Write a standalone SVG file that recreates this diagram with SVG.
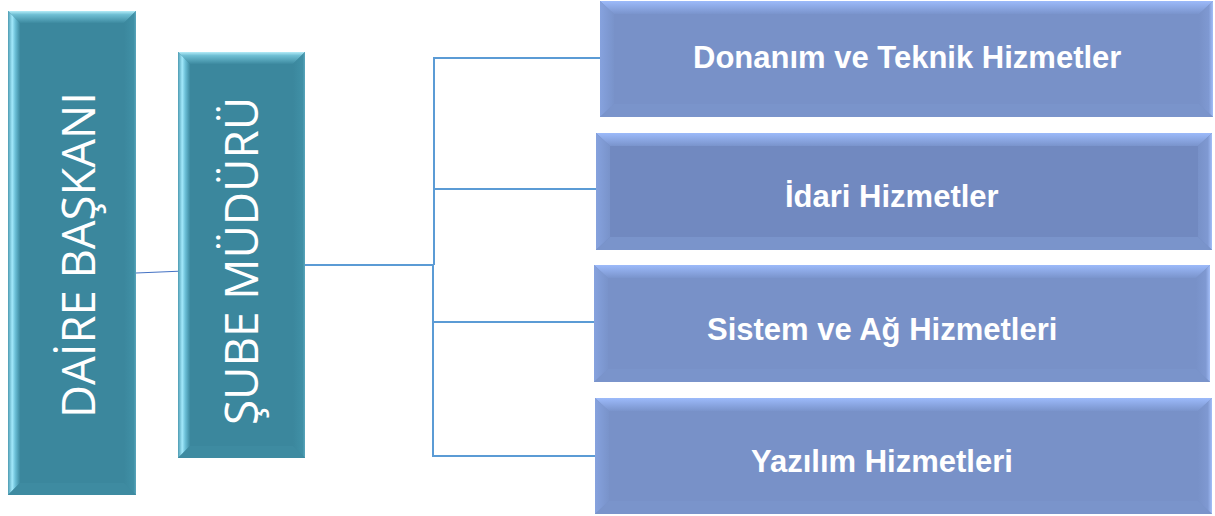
<svg xmlns="http://www.w3.org/2000/svg" width="1215" height="516" viewBox="0 0 1215 516">
<defs>
<linearGradient id="tTop" x1="0" y1="0" x2="0" y2="1"><stop offset="0" stop-color="#b4ecf8"/><stop offset="0.3" stop-color="#6fbfd4"/><stop offset="1" stop-color="#3d8aa0"/></linearGradient>
<linearGradient id="tLeft" x1="0" y1="0" x2="1" y2="0"><stop offset="0" stop-color="#4d9bb2"/><stop offset="0.35" stop-color="#a2e9fb"/><stop offset="0.6" stop-color="#6cc0d8"/><stop offset="1" stop-color="#3d8aa0"/></linearGradient>
<linearGradient id="tRight" x1="0" y1="0" x2="1" y2="0"><stop offset="0" stop-color="#3b879d"/><stop offset="0.8" stop-color="#4090a6"/><stop offset="1" stop-color="#5aa6bc"/></linearGradient>
<linearGradient id="bTop" x1="0" y1="0" x2="0" y2="1"><stop offset="0" stop-color="#9cbafa"/><stop offset="1" stop-color="#7a94cc"/></linearGradient>
<linearGradient id="bLeft" x1="0" y1="0" x2="1" y2="0"><stop offset="0" stop-color="#86a2de"/><stop offset="1" stop-color="#7993ca"/></linearGradient>
<linearGradient id="bRight" x1="0" y1="0" x2="1" y2="0"><stop offset="0" stop-color="#7891c8"/><stop offset="0.7" stop-color="#7f99d2"/><stop offset="1" stop-color="#a3bef8"/></linearGradient>
</defs>
<style>
.teal{fill:#3b879d}
.tTop{fill:url(#tTop)}
.tLeft{fill:url(#tLeft)}
.tRight{fill:url(#tRight)}
.tBot{fill:#3e8ba1}
.blue{fill:#7891c8}
.blue2{fill:#7189c0}
.bTop{fill:url(#bTop)}
.bLeft{fill:url(#bLeft)}
.bRight{fill:url(#bRight)}
.bBot{fill:#7a94cb}
.vt{font-family:"Open Sans","Noto Sans","Liberation Sans",sans-serif;font-size:46px;fill:#ffffff}
.ht{font-family:"Liberation Sans",Arial,sans-serif;font-weight:bold;font-size:31px;fill:#ffffff}
.conn{fill:none;stroke:#5b9bd5;stroke-width:2}
</style>
<g id="connectors">
<line x1="136" y1="273" x2="184" y2="271" stroke="#4472c4" stroke-width="1"/>
<line class="conn" x1="305" y1="265" x2="434" y2="265" stroke-width="2.5"/>
<polyline class="conn" points="600,58 434,58 434,265"/>
<line class="conn" x1="434" y1="189" x2="596" y2="189"/>
<polyline class="conn" points="433,265 433,456 596,456"/>
<line class="conn" x1="433" y1="322" x2="595" y2="322"/>
</g>
<g id="daire">
<rect class="teal" x="8" y="11" width="128" height="484"/>
<polygon class="tTop" points="8,11 136,11 124,23 20,23"/>
<polygon class="tLeft" points="8,11 20,23 20,483 8,495"/>
<polygon class="tRight" points="136,11 136,495 124,483 124,23"/>
<polygon class="tBot" points="8,495 20,483 124,483 136,495"/>
<text class="vt" transform="translate(95,418) rotate(-90)" textLength="326" lengthAdjust="spacingAndGlyphs">DAİRE BAŞKANI</text>
</g>
<g id="sube">
<rect class="teal" x="178" y="52" width="127" height="406"/>
<polygon class="tTop" points="178,52 305,52 293,64 190,64"/>
<polygon class="tLeft" points="178,52 190,64 190,446 178,458"/>
<polygon class="tRight" points="305,52 305,458 293,446 293,64"/>
<polygon class="tBot" points="178,458 190,446 293,446 305,458"/>
<text class="vt" transform="translate(258,425) rotate(-90)" textLength="328" lengthAdjust="spacingAndGlyphs">ŞUBE MÜDÜRÜ</text>
</g>
<g id="donanim">
<rect class="blue" x="600" y="1" width="613" height="116"/>
<polygon class="bTop" points="600,1 1213,1 1199,14 614,14"/>
<polygon class="bLeft" points="600,1 614,14 614,104 600,117"/>
<polygon class="bRight" points="1213,1 1213,117 1199,104 1199,14"/>
<polygon class="bBot" points="600,117 614,104 1199,104 1213,117"/>
<text class="ht" x="693" y="68">Donanım ve Teknik Hizmetler</text>
</g>
<g id="idari">
<rect class="blue2" x="596" y="133" width="616" height="117"/>
<polygon class="bTop" points="596,133 1212,133 1198,146 610,146"/>
<polygon class="bLeft" points="596,133 610,146 610,237 596,250"/>
<polygon class="bRight" points="1212,133 1212,250 1198,237 1198,146"/>
<polygon class="bBot" points="596,250 610,237 1198,237 1212,250"/>
<text class="ht" x="785" y="207">İdari Hizmetler</text>
</g>
<g id="sistem">
<rect class="blue" x="594" y="265" width="616" height="117"/>
<polygon class="bTop" points="594,265 1210,265 1196,278 608,278"/>
<polygon class="bLeft" points="594,265 608,278 608,369 594,382"/>
<polygon class="bRight" points="1210,265 1210,382 1196,369 1196,278"/>
<polygon class="bBot" points="594,382 608,369 1196,369 1210,382"/>
<text class="ht" x="707" y="340">Sistem ve Ağ Hizmetleri</text>
</g>
<g id="yazilim">
<rect class="blue" x="595" y="398" width="617" height="116"/>
<polygon class="bTop" points="595,398 1212,398 1198,411 609,411"/>
<polygon class="bLeft" points="595,398 609,411 609,501 595,514"/>
<polygon class="bRight" points="1212,398 1212,514 1198,501 1198,411"/>
<polygon class="bBot" points="595,514 609,501 1198,501 1212,514"/>
<text class="ht" x="751" y="472">Yazılım Hizmetleri</text>
</g>
</svg>
